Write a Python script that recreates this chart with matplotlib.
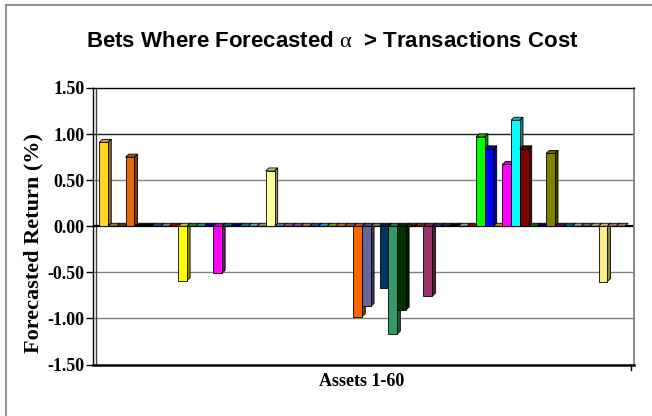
import matplotlib
matplotlib.use("Agg")
import matplotlib.pyplot as plt
from matplotlib.patches import Polygon
from matplotlib.lines import Line2D
import matplotlib.colors as mcolors
import numpy as np

plt.rcParams['mathtext.fontset'] = 'custom'
plt.rcParams['mathtext.rm'] = 'Liberation Serif'
plt.rcParams['mathtext.it'] = 'Liberation Serif'

# ---------------- data ----------------
assets = list(range(1, 61))
returns = [
    0.91, 0.00, 0.00, 0.75, 0.00, 0.00, 0.00, 0.00, 0.00, -0.59,
    0.00, 0.00, 0.00, -0.51, 0.00, 0.00, 0.00, 0.00, 0.00, 0.60,
    0.00, 0.00, 0.00, 0.00, 0.00, 0.00, 0.00, 0.00, 0.00, -0.98,
    -0.87, 0.00, -0.67, -1.17, -0.91, 0.00, 0.00, -0.76, 0.00, 0.00,
    0.00, 0.00, 0.00, 0.97, 0.84, 0.00, 0.67, 1.15, 0.84, 0.00,
    0.00, 0.79, 0.00, 0.00, 0.00, 0.00, 0.00, -0.60, 0.00, 0.00,
]
bar_colors = [
    '#FFD520', '#C0A000', '#804000', '#E36C09', '#000000', '#000000', '#336699', '#9999CC', '#CC0000', '#FFFF00',
    '#00CC00', '#00CCCC', '#0000CC', '#FF00FF', '#008080', '#000099', '#00A0C0', '#99CCCC', '#99CC99', '#FFFF99',
    '#6699CC', '#CC6699', '#9966CC', '#CC9966', '#3366CC', '#33CCCC', '#99CC00', '#CC9900', '#CC6600', '#FF6600',
    '#666699', '#969696', '#003366', '#339966', '#003300', '#333300', '#993300', '#993366', '#333399', '#333333',
    '#000000', '#C0C0C0', '#CC0000', '#00FF00', '#0000FF', '#CCCC00', '#FF00FF', '#00FFFF', '#800000', '#008000',
    '#000080', '#808000', '#800080', '#008080', '#C0C0C0', '#808080', '#CCCC99', '#FFEE88', '#CC9966', '#CC9977',
]
y_ticks = [-1.5, -1.0, -0.5, 0.0, 0.5, 1.0, 1.5]
y_tick_labels = ['-1.50', '-1.00', '-0.50', '0.00', '0.50', '1.00', '1.50']
grid_colors = {1.0: '#202020', 0.5: '#808080', -0.5: '#808080', -1.0: '#808080'}

title = 'Bets Where Forecasted $\\mathrm{\\alpha}$  > Transactions Cost'
xlabel = 'Assets 1-60'
ylabel = 'Forecasted Return (%)'

# ---------------- layout ----------------
W, H = 652, 416
L, R, T, B = 93, 634, 88, 364.5
fig = plt.figure(figsize=(W / 100, H / 100), dpi=100)
ax = fig.add_axes([L / W, 1 - B / H, (R - L) / W, (B - T) / H])

n = len(returns)
xmin, xmax = -1.22, 60.54
ax.set_xlim(xmin, xmax)
ax.set_ylim(-1.5, 1.5)

px_x = (R - L) / (xmax - xmin)
px_y = (B - T) / 3.0
dx = 3.2 / px_x
dy = 3.0 / px_y

def shade(c, f):
    r, g, b = mcolors.to_rgb(c)
    return (r * f, g * f, b * f)

x = np.arange(n)
bars = ax.bar(x, returns, width=1.0, color=bar_colors, edgecolor='black', linewidth=0.6)
for i, (bar, v, c) in enumerate(zip(bars, returns, bar_colors)):
    base_z = 3 + i * 0.01
    bar.set_zorder(base_z + 0.005)
    xl, xr = i - 0.5, i + 0.5
    top = max(v, 0.0)
    # top face
    tf = Polygon([(xl, top), (xl + dx, top + dy), (xr + dx, top + dy), (xr, top)],
                 closed=True, facecolor=shade(c, 0.78), edgecolor='black', linewidth=0.6, zorder=base_z)
    ax.add_patch(tf)
    # side face
    if v != 0:
        lo, hi = min(v, 0.0), max(v, 0.0)
        sf = Polygon([(xr, lo), (xr + dx, lo + dy), (xr + dx, hi + dy), (xr, hi)],
                     closed=True, facecolor=shade(c, 0.55), edgecolor='black', linewidth=0.6, zorder=base_z)
        ax.add_patch(sf)

# zero floor line
ax.axhline(0, color='black', linewidth=1.6, zorder=2.5)
for yv, col in grid_colors.items():
    ax.axhline(yv, color=col, linewidth=1.0, zorder=1)

# back wall left edge
ax.add_line(Line2D([3.0 / (R - L)] * 2, [0, 1], transform=ax.transAxes, color='#404040', linewidth=1.0))

for side in ['left', 'top', 'bottom']:
    ax.spines[side].set_color('black')
ax.spines['left'].set_linewidth(1.0)
ax.spines['top'].set_linewidth(1.0)
ax.spines['bottom'].set_linewidth(1.8)
ax.spines['right'].set_color('#808080')
ax.spines['right'].set_linewidth(1.3)

ax.set_xticks([])
ax.set_yticks(y_ticks)
ax.set_yticklabels(y_tick_labels, fontfamily='Liberation Serif', fontweight='bold', fontsize=13)
ax.tick_params(axis='y', direction='out', length=5, width=1, color='black', pad=1)

# small tick at right end of floor
ax.add_line(Line2D([0.995, 0.995], [0, -0.02], transform=ax.transAxes, color='black',
                   linewidth=1.0, clip_on=False))

fig.text(332 / W, 1 - 41.5 / H, title, ha='center', va='center', fontsize=16,
         fontweight='bold', fontfamily='Liberation Sans')
fig.text(362 / W, 1 - 382 / H, xlabel, ha='center', va='center', fontsize=13,
         fontweight='bold', fontfamily='Liberation Serif')
fig.text(33 / W, 1 - 243 / H, ylabel, ha='center', va='center', fontsize=16, rotation=90,
         fontweight='bold', fontfamily='Liberation Serif')

# outer chart border (left and top visible)
fig.add_artist(Line2D([5.5 / W, 5.5 / W], [0, 1 - 4.5 / H], transform=fig.transFigure,
                      color='#808080', linewidth=1.2))
fig.add_artist(Line2D([5.5 / W, 1], [1 - 4.5 / H, 1 - 4.5 / H], transform=fig.transFigure,
                      color='#808080', linewidth=1.2))

fig.savefig('out.png', dpi=100)
